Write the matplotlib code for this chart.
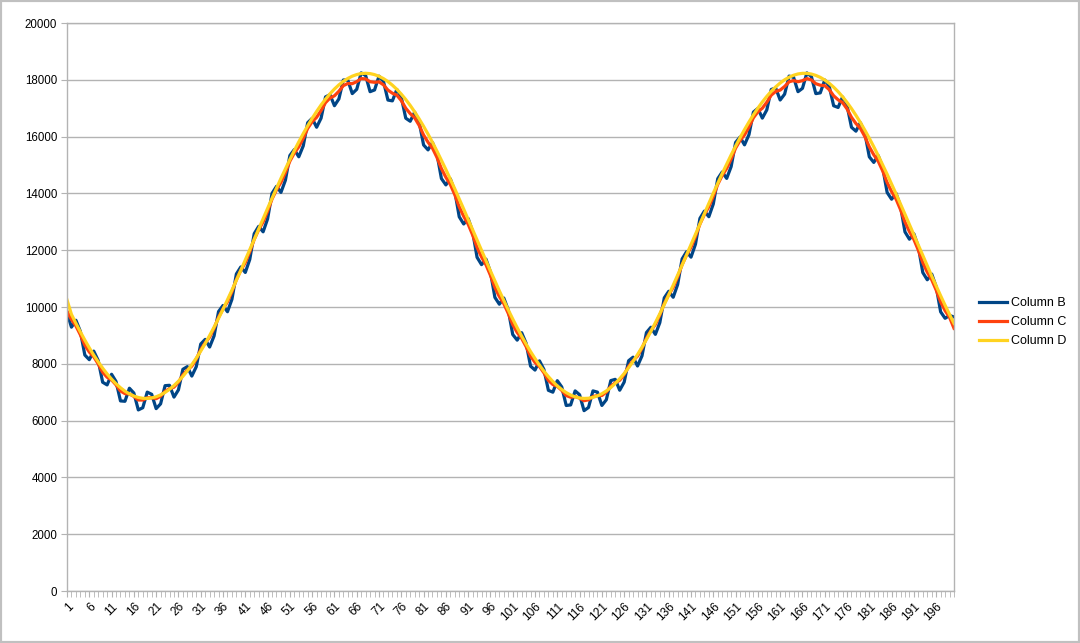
import matplotlib.pyplot as plt
from matplotlib.patches import Rectangle

plt.rcParams["font.family"] = ["Liberation Sans", "DejaVu Sans"]

# row numbers 1..200 (spreadsheet rows)
rows = list(range(1, 201))
tick_rows = rows[::5]

col_b = [
    9800, 9289, 9533, 9140, 8309, 8145, 8447, 8117, 7351, 7257,
    7632, 7377, 6693, 6680, 7140, 6971, 6376, 6453, 7003, 6926,
    6421, 6590, 7230, 7243, 6827, 7082, 7807, 7901, 7567, 7897,
    8695, 8859, 8590, 8983, 9839, 10054, 9833, 10269, 11163, 11411,
    11216, 11672, 12581, 12839, 12647, 13101, 14002, 14247, 14035, 14464,
    15334, 15543, 15289, 15672, 16490, 16643, 16329, 16648, 17397, 17477,
    17087, 17327, 17994, 17990, 17514, 17665, 18244, 18149, 17582, 17642,
    18129, 17944, 17287, 17258, 17659, 17388, 16648, 16540, 16861, 16517,
    15706, 15532, 15791, 15388, 14523, 14299, 14514, 14074, 13175, 12923,
    13116, 12658, 11749, 11492, 11686, 11235, 10338, 10098, 10317, 9894,
    9032, 8833, 9096, 8725, 7917, 7779, 8105, 7801, 7066, 7001,
    7406, 7184, 6532, 6552, 7046, 6911, 6350, 6462, 7046, 7003,
    6533, 6735, 7408, 7453, 7069, 7354, 8109, 8233, 7922, 8279,
    9100, 9287, 9036, 9449, 10321, 10553, 10343, 10790, 11691, 11947,
    11755, 12212, 13120, 13377, 13179, 13629, 14519, 14754, 14528, 14942,
    15794, 15984, 15709, 16069, 16863, 16992, 16650, 16940, 17660, 17710,
    17288, 17495, 18130, 18092, 17582, 17699, 18244, 18115, 17513, 17540,
    17994, 17775, 17086, 17026, 17396, 17096, 16328, 16191, 16489, 16120,
    15288, 15091, 15332, 14912, 14033, 13795, 14000, 13549, 12645, 12387,
    12578, 12119, 11213, 10959, 11160, 10717, 9831, 9602, 9700, 9650,
]

col_c = [
    9854, 9559, 9333, 9020, 8659, 8415, 8247, 7997, 7701, 7527,
    7432, 7257, 7043, 6950, 6940, 6851, 6726, 6723, 6803, 6806,
    6771, 6860, 7030, 7123, 7177, 7352, 7607, 7781, 7917, 8167,
    8495, 8739, 8940, 9253, 9639, 9934, 10183, 10539, 10963, 11291,
    11566, 11942, 12381, 12719, 12997, 13371, 13802, 14127, 14385, 14734,
    15134, 15423, 15639, 15942, 16290, 16523, 16679, 16918, 17197, 17357,
    17437, 17597, 17794, 17870, 17864, 17935, 18044, 18029, 17932, 17912,
    17929, 17824, 17637, 17528, 17459, 17268, 16998, 16810, 16661, 16397,
    16056, 15802, 15591, 15268, 14873, 14569, 14314, 13954, 13525, 13193,
    12916, 12538, 12099, 11762, 11486, 11115, 10688, 10368, 10117, 9774,
    9382, 9103, 8896, 8605, 8267, 8049, 7905, 7681, 7416, 7271,
    7206, 7064, 6882, 6822, 6846, 6791, 6700, 6732, 6846, 6883,
    6883, 7005, 7208, 7333, 7419, 7624, 7909, 8113, 8272, 8549,
    8900, 9167, 9386, 9719, 10121, 10433, 10693, 11060, 11491, 11827,
    12105, 12482, 12920, 13257, 13529, 13899, 14319, 14634, 14878, 15212,
    15594, 15864, 16059, 16339, 16663, 16872, 17000, 17210, 17460, 17590,
    17638, 17765, 17930, 17972, 17932, 17969, 18044, 17995, 17863, 17810,
    17794, 17655, 17436, 17296, 17196, 16976, 16678, 16461, 16289, 16000,
    15638, 15361, 15132, 14792, 14383, 14065, 13800, 13429, 12995, 12657,
    12378, 11999, 11563, 11229, 10960, 10597, 10181, 9872, 9637, 9250,
]

col_d = [
    10250, 9739, 9425, 9124, 8835, 8562, 8307, 8069, 7845, 7643,
    7460, 7297, 7156, 7036, 6940, 6865, 6814, 6785, 6781, 6798,
    6839, 6905, 6992, 7102, 7233, 7386, 7559, 7753, 7969, 8199,
    8447, 8713, 8996, 9291, 9600, 9918, 10251, 10591, 10940, 11293,
    11653, 12015, 12380, 12745, 13110, 13470, 13829, 14182, 14528, 14864,
    15192, 15509, 15813, 16105, 16381, 16642, 16885, 17112, 17320, 17507,
    17675, 17821, 17945, 18048, 18128, 18185, 18220, 18230, 18218, 18182,
    18123, 18042, 17938, 17811, 17664, 17495, 17305, 17098, 16869, 16624,
    16362, 16086, 15793, 15488, 15169, 14842, 14503, 14159, 13804, 13447,
    13084, 12720, 12355, 11991, 11628, 11270, 10916, 10568, 10229, 9898,
    9578, 9270, 8975, 8696, 8430, 8185, 7953, 7740, 7548, 7375,
    7223, 7094, 6985, 6899, 6837, 6796, 6780, 6787, 6817, 6870,
    6946, 7045, 7165, 7308, 7473, 7657, 7861, 8085, 8325, 8583,
    8855, 9144, 9446, 9761, 10087, 10423, 10767, 11119, 11475, 11837,
    12201, 12564, 12929, 13293, 13652, 14010, 14358, 14701, 15032, 15354,
    15664, 15962, 16245, 16514, 16766, 17002, 17219, 17416, 17594, 17751,
    17886, 18000, 18091, 18160, 18206, 18228, 18227, 18203, 18155, 18086,
    17993, 17877, 17740, 17582, 17403, 17204, 16986, 16749, 16496, 16225,
    15942, 15642, 15330, 15006, 14674, 14332, 13982, 13626, 13266, 12902,
    12537, 12172, 11809, 11447, 11091, 10741, 10397, 10060, 9737, 9423,
]

series = [("Column B", col_b, "#004586"),
          ("Column C", col_c, "#ff420e"),
          ("Column D", col_d, "#ffd320")]

fig = plt.figure(figsize=(10.8, 6.43), dpi=100)
ax = fig.add_axes([67 / 1080, 52 / 643, 887 / 1080, 568 / 643])

for name, values, color in series:
    ax.plot(rows, values, color=color, lw=2.3, label=name, solid_joinstyle="round")

grid_col = "#b3b3b3"
ax.set_xlim(1, 200)
ax.set_ylim(0, 20000)
ax.set_yticks(range(0, 20001, 2000))
ax.yaxis.grid(True, color=grid_col, lw=1)
ax.set_axisbelow(True)
for sp in ax.spines.values():
    sp.set_color(grid_col)
    sp.set_linewidth(1)

ax.set_xticks(tick_rows)
ax.set_xticklabels([str(r) for r in tick_rows], rotation=45, ha="right",
                   va="top", rotation_mode="anchor", fontsize=8.6)
ax.set_xticks(rows, minor=True)
ax.tick_params(axis="x", which="both", length=4, color=grid_col, pad=3)
ax.tick_params(axis="y", length=4, color=grid_col, labelsize=8.3, pad=3)

ax.legend(loc="center left", bbox_to_anchor=(1.016, 0.473), frameon=False,
          fontsize=9, handlelength=2.2, handletextpad=0.35, labelspacing=0.55)

# sheet frame around the chart
fig.patches.append(Rectangle((0, 0), 1, 1, transform=fig.transFigure, fill=False,
                             edgecolor="#c0c0c0", lw=3))

fig.savefig("out.png", dpi=100)
